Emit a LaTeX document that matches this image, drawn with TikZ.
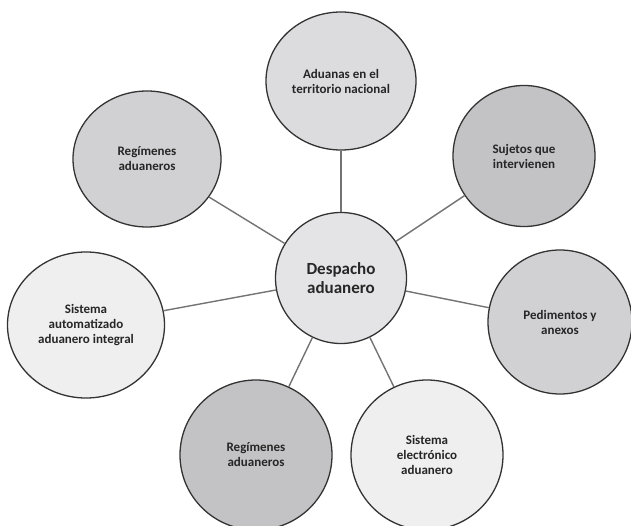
\documentclass[tikz,border=0pt]{standalone}
\usepackage{fontspec}
\setmainfont{Carlito}
\usepackage{tikz}
\usetikzlibrary{shapes.geometric}

\definecolor{shadecenter}{HTML}{E4E4E6}
\definecolor{shadelight}{HTML}{EFEFEF}
\definecolor{shadesoft}{HTML}{DCDCDE}
\definecolor{shademid}{HTML}{D1D1D3}
\definecolor{shadedark}{HTML}{C3C3C5}

\begin{document}
\begin{tikzpicture}[x=1pt, y=-1pt,
    topic/.style={ellipse, draw=black!80, line width=1.3pt, inner sep=0pt,
        align=center, text=black!85, font=\bfseries\fontsize{13}{15}\selectfont},
    hub/.style={topic, font=\bfseries\fontsize{17}{18.5}\selectfont},
    link/.style={draw=black!55, line width=1.4pt}]
    \useasboundingbox (0,0) rectangle (631,526);

    % Central topic
    \node (despacho) at (341, 278) [hub, fill=shadecenter, minimum width=131pt, minimum height=131pt] {Despacho\\aduanero};

    % Surrounding topics
    \node (aduanas) at (341, 81) [topic, fill=shadesoft, minimum width=150pt, minimum height=138pt] {Aduanas en el\\territorio nacional};
    \node (regimenesA) at (147, 159) [topic, fill=shademid, minimum width=148pt, minimum height=136pt] {Regímenes\\aduaneros};
    \node (sujetos) at (524, 156) [topic, fill=shadedark, minimum width=142pt, minimum height=141pt] {Sujetos que\\intervienen};
    \node (pedimentos) at (560, 322) [topic, fill=shademid, minimum width=144pt, minimum height=144pt] {Pedimentos y\\anexos};
    \node (saai) at (86, 325) [topic, fill=shadelight, minimum width=157pt, minimum height=146pt] {Sistema\\automatizado\\aduanero integral};
    \node (regimenesB) at (256, 455) [topic, fill=shadedark, minimum width=152pt, minimum height=150pt] {Regímenes\\aduaneros};
    \node (electronico) at (427, 455) [topic, fill=shadelight, minimum width=152pt, minimum height=150pt] {Sistema\\electrónico\\aduanero};

    % Connectors
    \draw[link] (despacho) -- (aduanas);
    \draw[link] (despacho) -- (regimenesA);
    \draw[link] (despacho) -- (sujetos);
    \draw[link] (despacho) -- (pedimentos);
    \draw[link] (despacho) -- (saai);
    \draw[link] (despacho) -- (regimenesB);
    \draw[link] (despacho) -- (electronico);
\end{tikzpicture}
\end{document}
